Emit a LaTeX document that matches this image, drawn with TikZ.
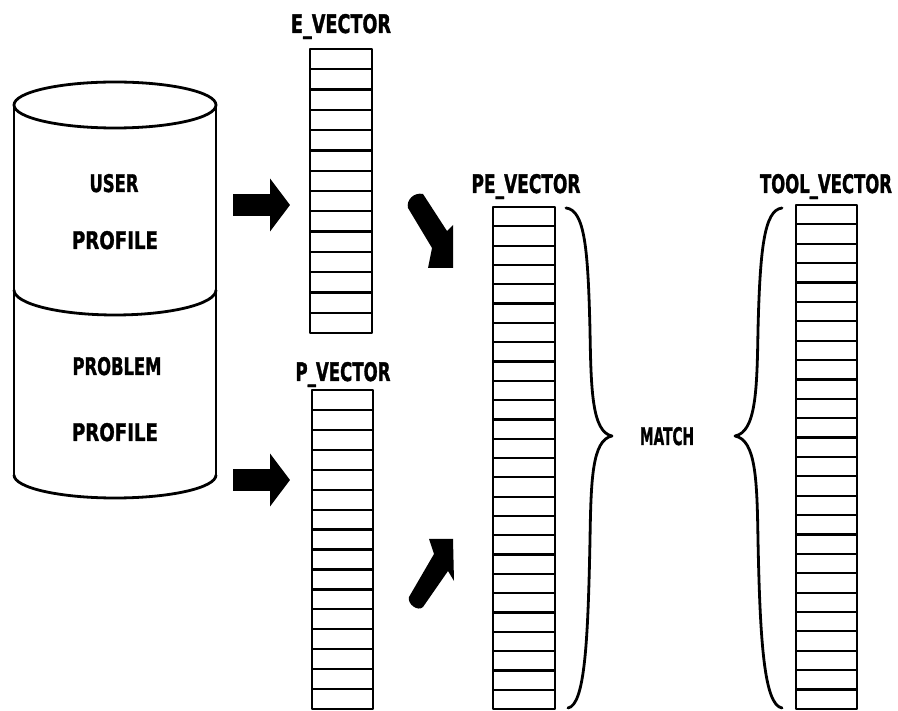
\documentclass[tikz,border=0pt]{standalone}
\usepackage{fontspec}
\newfontfamily\lblfont{DejaVu Sans}[BoldFeatures={FakeBold=1.5}]
\usetikzlibrary{arrows.meta}
\newcommand\fitlbl[3]{\resizebox{#1pt}{#2pt}{\lblfont\bfseries #3}}
% name, x, ytop, width, ncells, cell height, ncells-1
\newcommand\vectorcol[7]{%
  \node[vecbox, minimum width=#4pt, minimum height=#5*#6pt] (#1) at (#2,#3) {};
  \foreach \i in {1,...,#7}{\draw[cellline] ({#2},{#3+\i*#6}) -- ++(#4,0);}
}
\begin{document}
\begin{tikzpicture}[x=1pt,y=-1pt,line join=round,
  vecbox/.style={draw, line width=2.6pt, inner sep=0, outer sep=0, anchor=north west},
  cellline/.style={line width=2.2pt},
  outline/.style={line width=2.8pt},
  lbl/.style={inner sep=0, outer sep=0, anchor=base},
  blockarrow/.style={line width=22pt, -{Triangle[length=20pt,width=52pt]}},
  bracestyle/.style={line width=2.8pt, line cap=round}]
\useasboundingbox (0,0) rectangle (898,711);
\fill[white] (0,0) rectangle (898,711);

% cylinder (database of profiles)
\node[inner sep=0, outer sep=0, minimum width=202pt, minimum height=416pt] (db) at (115,290) {};
\draw[outline] (115,105) ellipse [x radius=101, y radius=23];
\draw[outline] (14,105) -- (14,475);
\draw[outline] (216,105) -- (216,475);
\draw[outline] (14,290) .. controls (14,303.8) and (59.2,315) .. (115,315)
                        .. controls (170.8,315) and (216,303.8) .. (216,290);
\draw[outline] (14,475) .. controls (14,487.7) and (59.2,498) .. (115,498)
                        .. controls (170.8,498) and (216,487.7) .. (216,475);
\node[lbl] (user)  at (114,192) {\fitlbl{49}{18}{USER}};
\node[lbl] (prof1) at (115,249) {\fitlbl{86}{18}{PROFILE}};
\node[lbl] (prob)  at (117,375) {\fitlbl{89}{18}{PROBLEM}};
\node[lbl] (prof2) at (115,441) {\fitlbl{86}{18}{PROFILE}};

% vectors
\vectorcol{eV}{310}{49}{62}{14}{20.286}{13}
\vectorcol{pV}{312}{390}{61}{16}{19.94}{15}
\vectorcol{peV}{493}{207}{62}{26}{19.31}{25}
\vectorcol{tV}{796}{205}{61}{26}{19.38}{25}

\node[lbl] (eL)  at (341,33)  {\fitlbl{100}{19}{E\_VECTOR}};
\node[lbl] (pL)  at (343,381) {\fitlbl{95}{19}{P\_VECTOR}};
\node[lbl] (peL) at (526,193) {\fitlbl{109}{19}{PE\_VECTOR}};
\node[lbl] (tL)  at (826,193) {\fitlbl{132}{19}{TOOL\_VECTOR}};
\node[lbl] (match) at (667,445) {\fitlbl{54}{18}{MATCH}};

% block arrows from the profiles to the vectors
\coordinate (eA1) at (233,205);
\coordinate (eA2) at (290,205);
\coordinate (pA1) at (233,480);
\coordinate (pA2) at (290,480);
\draw[blockarrow] (eA1) -- (eA2);
\draw[blockarrow] (pA1) -- (pA2);

% diagonal arrows into PE_VECTOR
\fill (408,208) .. controls (406,200) and (414,192) .. (423,194) -- (447,231)
  -- (453,225) -- (453,268) -- (428,268) -- (432,248) -- cycle;
\fill (409,597) -- (434,554) -- (429,539) -- (453,539) -- (454,581) -- (448,571)
  -- (423,607) .. controls (418,612) and (407,604) .. (409,597) -- cycle;

% braces
\draw[bracestyle] (566,208) .. controls (585,210) and (588,250) .. (590,330)
  .. controls (591,390) and (592,432) .. (612,436)
  .. controls (592,440) and (591,480) .. (590,540)
  .. controls (588,640) and (585,705) .. (568,708);
\draw[bracestyle] (782,208) .. controls (764,210) and (760,250) .. (758,330)
  .. controls (757,390) and (756,432) .. (735,436)
  .. controls (756,440) and (757,480) .. (758,540)
  .. controls (760,640) and (764,705) .. (782,708);
\end{tikzpicture}
\end{document}
